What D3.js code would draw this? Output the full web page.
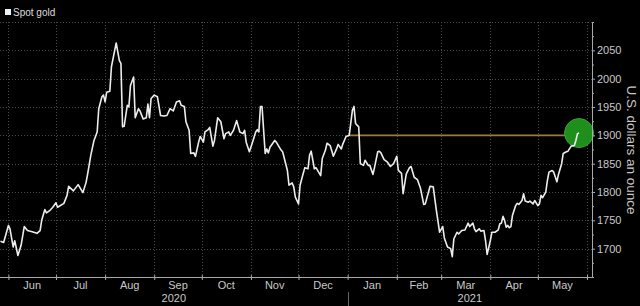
<!DOCTYPE html>
<html><head><meta charset="utf-8">
<script src="https://cdn.jsdelivr.net/npm/d3@7"></script>
<style>html,body{margin:0;background:#000;overflow:hidden}svg{display:block}</style>
</head><body>
<script>
// ---- data ----
const dates = [
"2020-05-27","2020-05-29",
"2020-06-01","2020-06-02","2020-06-04","2020-06-05","2020-06-07","2020-06-09","2020-06-11","2020-06-13","2020-06-16","2020-06-19","2020-06-21","2020-06-22","2020-06-24","2020-06-25","2020-06-27","2020-06-29",
"2020-07-01","2020-07-02","2020-07-06","2020-07-08","2020-07-09","2020-07-12","2020-07-15","2020-07-18","2020-07-20","2020-07-21","2020-07-23","2020-07-25","2020-07-27","2020-07-28","2020-07-30","2020-07-31",
"2020-08-01","2020-08-02","2020-08-04","2020-08-05","2020-08-08","2020-08-10","2020-08-11","2020-08-12","2020-08-13","2020-08-15","2020-08-16","2020-08-17","2020-08-19","2020-08-20","2020-08-22","2020-08-23","2020-08-25","2020-08-27","2020-08-28","2020-08-29","2020-08-30",
"2020-09-01","2020-09-03","2020-09-05","2020-09-07","2020-09-09","2020-09-11","2020-09-13","2020-09-15","2020-09-17","2020-09-18","2020-09-20","2020-09-21","2020-09-23","2020-09-24","2020-09-26","2020-09-27","2020-09-29","2020-09-30",
"2020-10-02","2020-10-03","2020-10-05","2020-10-06","2020-10-08","2020-10-09","2020-10-11","2020-10-13","2020-10-15","2020-10-16","2020-10-18","2020-10-19","2020-10-21","2020-10-23","2020-10-25","2020-10-27","2020-10-28","2020-10-29","2020-10-31",
"2020-11-02","2020-11-04","2020-11-05","2020-11-06","2020-11-07","2020-11-08","2020-11-10","2020-11-11","2020-11-12","2020-11-13","2020-11-16","2020-11-17","2020-11-20","2020-11-21","2020-11-24","2020-11-25","2020-11-27","2020-11-28","2020-11-29",
"2020-12-01","2020-12-02","2020-12-04","2020-12-05","2020-12-07","2020-12-08","2020-12-09","2020-12-11","2020-12-12","2020-12-15","2020-12-16","2020-12-18","2020-12-19","2020-12-21","2020-12-23","2020-12-25","2020-12-26","2020-12-28","2020-12-29","2020-12-31",
"2021-01-02","2021-01-04","2021-01-05","2021-01-06","2021-01-08","2021-01-09","2021-01-11","2021-01-12","2021-01-14","2021-01-15","2021-01-17","2021-01-18","2021-01-20","2021-01-21","2021-01-22","2021-01-24","2021-01-26","2021-01-28","2021-01-30",
"2021-02-01","2021-02-02","2021-02-04","2021-02-05","2021-02-07","2021-02-09","2021-02-10","2021-02-12","2021-02-14","2021-02-16","2021-02-18","2021-02-19","2021-02-22","2021-02-24","2021-02-26","2021-02-28",
"2021-03-02","2021-03-03","2021-03-05","2021-03-07","2021-03-08","2021-03-09","2021-03-11","2021-03-12","2021-03-14","2021-03-16","2021-03-18","2021-03-19","2021-03-21","2021-03-22","2021-03-23","2021-03-25","2021-03-26","2021-03-28","2021-03-29","2021-03-30",
"2021-04-01","2021-04-02","2021-04-04","2021-04-06","2021-04-07","2021-04-08","2021-04-09","2021-04-10","2021-04-11","2021-04-12","2021-04-13","2021-04-14","2021-04-15","2021-04-17","2021-04-18","2021-04-19","2021-04-21","2021-04-22","2021-04-23","2021-04-25","2021-04-26","2021-04-28","2021-04-29",
"2021-05-01","2021-05-02","2021-05-03","2021-05-04","2021-05-06","2021-05-07","2021-05-08","2021-05-10","2021-05-11","2021-05-13","2021-05-14","2021-05-16","2021-05-17","2021-05-19","2021-05-20","2021-05-22","2021-05-24","2021-05-25","2021-05-26","2021-05-27"
];
const prices = [
1713,1711,
1741,1735,1703,1714,1688,1706,1739,1732,1730,1727,1732,1750,1769,1763,1767,1773,
1781,1773,1780,1794,1810,1802,1813,1799,1817,1832,1865,1891,1906,1947,1968,1971,
1959,1976,1978,2021,2063,2032,2027,1915,1916,1953,1950,1988,2003,1931,1947,1943,1929,1931,1955,1931,1965,
1971,1968,1935,1934,1935,1947,1943,1959,1961,1953,1951,1924,1909,1868,1869,1863,1888,1898,
1888,1906,1910,1914,1881,1891,1931,1924,1894,1903,1906,1900,1909,1926,1906,1903,1909,1888,1871,
1888,1906,1910,1906,1951,1951,1868,1876,1869,1879,1891,1888,1874,1871,1838,1812,1816,1809,1791,
1779,1812,1833,1843,1841,1865,1872,1841,1843,1829,1859,1874,1886,1882,1863,1876,1884,1876,1885,1898,
1900,1944,1951,1921,1915,1850,1847,1856,1847,1847,1831,1844,1871,1872,1869,1857,1853,1845,1850,
1863,1838,1833,1797,1832,1843,1845,1826,1822,1806,1778,1779,1810,1809,1767,1729,
1739,1719,1703,1700,1686,1717,1729,1726,1732,1733,1745,1739,1745,1735,1730,1735,1731,1732,1714,1690,
1714,1729,1729,1733,1744,1745,1757,1750,1738,1741,1737,1739,1759,1776,1780,1778,1785,1797,1784,1782,1784,1779,1785,
1776,1779,1794,1790,1800,1820,1835,1838,1835,1818,1831,1850,1868,1871,1872,1881,1882,1891,1903,1904
];
const yTicks = [1700,1750,1800,1850,1900,1950,2000,2050];
const yMinorTicks = [1650,1675,1725,1775,1825,1875,1925,1975,2025,2075,2100];
const yGrid = [1700,1750,1800,1850,1900,1950,2000,2050,2100];
const yearLabels = ["2020","2021"];
const seriesName = "Spot gold";
const axisTitle = "U.S. dollars an ounce";
const refLevel = 1900;
const refStart = "2021-01-02";

// ---- layout ----
const W = 640, H = 306;
const axisX = 592, plotTop = 22, plotBottom = 277;
const parse = d3.utcParse("%Y-%m-%d");
const data = dates.map((d, i) => ({date: parse(d), value: prices[i]}));

const x = d3.scaleUtc()
  .domain([new Date(Date.UTC(2020,5,1)), new Date(Date.UTC(2021,5,1))])
  .range([8.4, 587]);
const y = d3.scaleLinear().domain([1650, 2100]).range([plotBottom, plotTop]);

const svg = d3.select("body").append("svg").attr("width", W).attr("height", H)
  .style("background", "#000");

const font = "'Liberation Sans', Arial, sans-serif";
const axisCol = "#a9a9a9", textCol = "#c9c9c9", gridCol = "#4a4a4a";

const months = d3.utcMonth.range(new Date(Date.UTC(2020,5,1)), new Date(Date.UTC(2021,5,2)));

// grid
svg.append("g").selectAll("line").data(yGrid).join("line")
  .attr("x1", 0).attr("x2", axisX)
  .attr("y1", d => Math.round(y(d)) + 0.5).attr("y2", d => Math.round(y(d)) + 0.5)
  .attr("stroke", gridCol).attr("stroke-width", 1).attr("stroke-dasharray", "1,2");
svg.append("g").selectAll("line").data(months).join("line")
  .attr("x1", d => Math.round(x(d)) + 0.5).attr("x2", d => Math.round(x(d)) + 0.5)
  .attr("y1", plotTop).attr("y2", plotBottom)
  .attr("stroke", gridCol).attr("stroke-width", 1).attr("stroke-dasharray", "1,2");

// reference level line
const last = data[data.length - 1];
svg.append("line")
  .attr("x1", x(parse(refStart))).attr("x2", x(last.date))
  .attr("y1", y(refLevel)).attr("y2", y(refLevel))
  .attr("stroke", "#9c7a44").attr("stroke-width", 1.6);

// highlight circle
svg.append("circle")
  .attr("cx", x(last.date)).attr("cy", y(last.value)).attr("r", 14.5)
  .attr("fill", "#1f8f1c").attr("stroke", "#35a52e").attr("stroke-width", 1);

// price line
const line = d3.line().x(d => x(d.date)).y(d => y(d.value));
svg.append("path").datum(data).attr("d", line)
  .attr("fill", "none").attr("stroke", "#ededed").attr("stroke-width", 1.6)
  .attr("stroke-linejoin", "round");

// right axis
const ra = svg.append("g").attr("transform", `translate(${axisX},0)`)
  .call(d3.axisRight(y).tickValues(yTicks).tickSize(3).tickPadding(2).tickFormat(d3.format("d")));
ra.select(".domain").remove();
ra.selectAll("line").attr("stroke", axisCol);
ra.selectAll("text").attr("fill", textCol).style("font-family", font).style("font-size", "11px");
const rm = svg.append("g").attr("transform", `translate(${axisX},0)`)
  .call(d3.axisRight(y).tickValues(yMinorTicks).tickSize(2).tickFormat(""));
rm.select(".domain").remove();
rm.selectAll("line").attr("stroke", axisCol);
svg.append("line").attr("x1", axisX + 0.5).attr("x2", axisX + 0.5).attr("y1", plotTop).attr("y2", plotBottom)
  .attr("stroke", axisCol);

// axis title
svg.append("text").attr("transform", `translate(627,150) rotate(90)`)
  .attr("text-anchor", "middle").attr("fill", textCol)
  .style("font-family", font).style("font-size", "13.5px").text(axisTitle);

// bottom axis
const ba = svg.append("g").attr("transform", `translate(0,${plotBottom})`)
  .call(d3.axisBottom(x).tickValues(months).tickSize(3).tickFormat(""));
ba.select(".domain").remove();
ba.selectAll("line").attr("stroke", axisCol).attr("y1", -2);
svg.append("line").attr("x1", 0).attr("x2", axisX).attr("y1", plotBottom + 0.5).attr("y2", plotBottom + 0.5)
  .attr("stroke", axisCol);

const monthMids = months.slice(0, -1).map((m, i) => ({m, mid: (x(m) + x(months[i + 1])) / 2}));
svg.append("g").selectAll("text").data(monthMids).join("text")
  .attr("x", d => d.mid).attr("y", 289).attr("text-anchor", "middle")
  .attr("fill", textCol).style("font-family", font).style("font-size", "11px")
  .text(d => d3.utcFormat("%b")(d.m));

// years
const jan1 = x(new Date(Date.UTC(2021,0,1)));
const yearSpans = [[0, jan1], [jan1, axisX]];
svg.append("g").selectAll("text").data(yearLabels).join("text")
  .attr("x", (d, i) => (yearSpans[i][0] + yearSpans[i][1]) / 2).attr("y", 302)
  .attr("text-anchor", "middle").attr("fill", textCol)
  .style("font-family", font).style("font-size", "11px").text(d => d);
svg.append("line").attr("x1", Math.round(jan1) + 0.5).attr("x2", Math.round(jan1) + 0.5)
  .attr("y1", 292).attr("y2", H).attr("stroke", "#666");

// legend
svg.append("rect").attr("x", 5).attr("y", 9).attr("width", 6).attr("height", 6).attr("fill", "#f0f0f0");
svg.append("text").attr("x", 13).attr("y", 15.5).attr("fill", "#dcdcdc")
  .style("font-family", font).style("font-size", "10px").text(seriesName);
</script>
</body></html>
